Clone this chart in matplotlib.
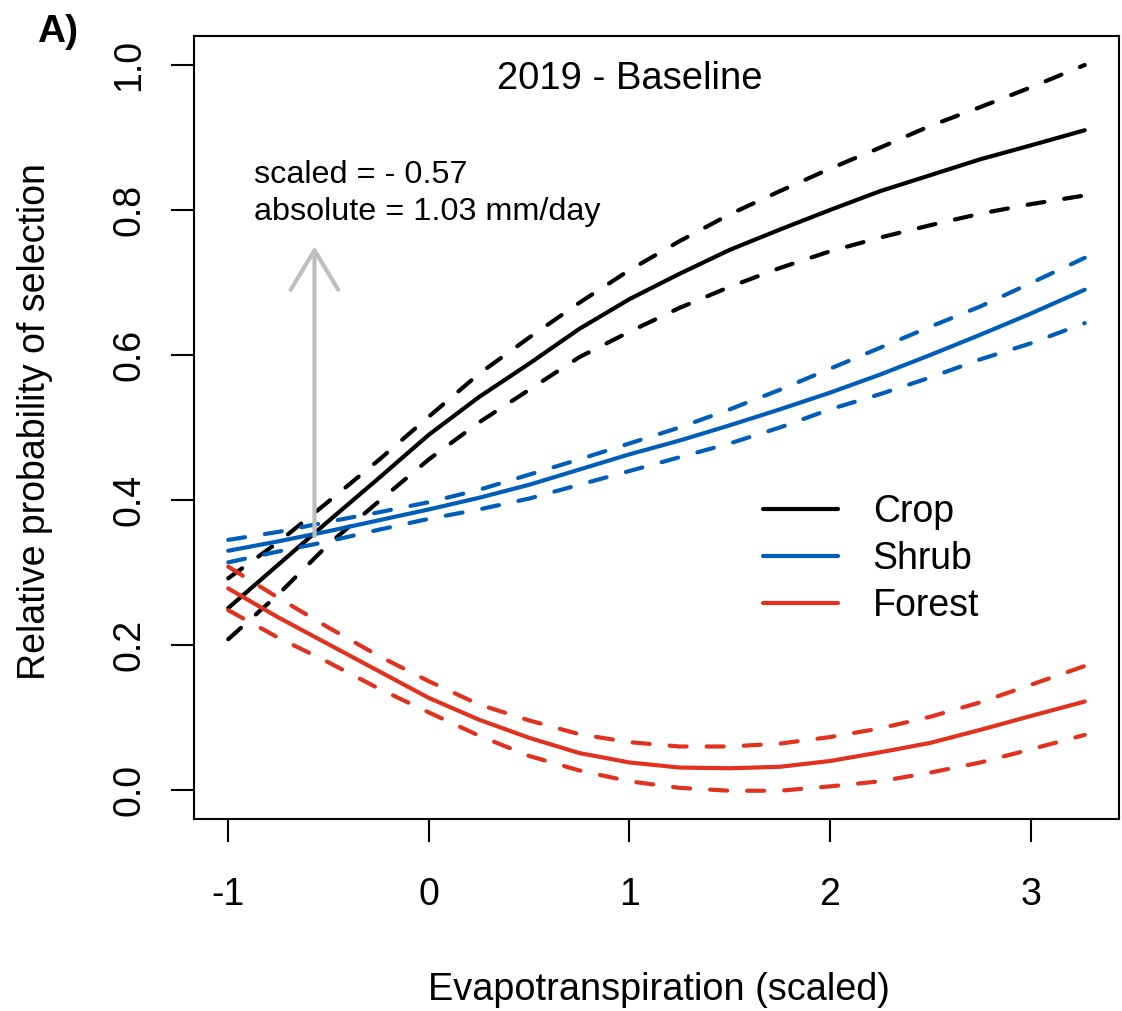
#!/usr/bin/env python3
import matplotlib
matplotlib.use("Agg")
import matplotlib.pyplot as plt

plt.rcParams["font.family"] = ["Liberation Sans", "DejaVu Sans"]

# evapotranspiration (scaled) grid
et_scaled = [-1, -0.75, -0.5, -0.25, 0, 0.25, 0.5, 0.75, 1, 1.25, 1.5, 1.75,
             2, 2.25, 2.5, 2.75, 3, 3.27]

crop_fit = [0.251, 0.311, 0.371, 0.430, 0.490, 0.542, 0.588, 0.636, 0.677, 0.712,
            0.745, 0.773, 0.800, 0.826, 0.848, 0.870, 0.889, 0.910]
crop_hi = [0.292, 0.342, 0.398, 0.455, 0.515, 0.574, 0.624, 0.672, 0.717, 0.757,
           0.794, 0.826, 0.857, 0.886, 0.916, 0.942, 0.969, 1.000]
crop_lo = [0.208, 0.270, 0.339, 0.398, 0.456, 0.507, 0.552, 0.597, 0.632, 0.665,
           0.694, 0.720, 0.743, 0.762, 0.779, 0.795, 0.808, 0.820]

shrub_fit = [0.330, 0.343, 0.357, 0.372, 0.387, 0.403, 0.421, 0.442, 0.463, 0.482,
             0.503, 0.525, 0.548, 0.573, 0.600, 0.628, 0.657, 0.690]
shrub_hi = [0.345, 0.356, 0.370, 0.383, 0.397, 0.414, 0.435, 0.456, 0.478, 0.500,
            0.525, 0.552, 0.581, 0.610, 0.639, 0.667, 0.699, 0.734]
shrub_lo = [0.314, 0.329, 0.343, 0.359, 0.374, 0.387, 0.402, 0.421, 0.440, 0.459,
            0.478, 0.500, 0.525, 0.546, 0.569, 0.594, 0.616, 0.644]

forest_fit = [0.278, 0.238, 0.201, 0.164, 0.127, 0.097, 0.072, 0.051, 0.038, 0.031,
              0.030, 0.032, 0.040, 0.052, 0.065, 0.083, 0.102, 0.122]
forest_hi = [0.308, 0.265, 0.224, 0.185, 0.150, 0.118, 0.096, 0.077, 0.066, 0.060,
             0.060, 0.064, 0.073, 0.085, 0.101, 0.121, 0.145, 0.171]
forest_lo = [0.248, 0.210, 0.176, 0.140, 0.107, 0.075, 0.047, 0.027, 0.012, 0.003,
             -0.001, -0.001, 0.005, 0.012, 0.024, 0.038, 0.056, 0.076]

x_ticks = [-1, 0, 1, 2, 3]
x_tick_labels = ["-1", "0", "1", "2", "3"]
y_ticks = [0.0, 0.2, 0.4, 0.6, 0.8, 1.0]
y_tick_labels = ["0.0", "0.2", "0.4", "0.6", "0.8", "1.0"]

# threshold arrow
arrow_x = -0.57
arrow_from = 0.35
arrow_to = 0.75

COL_CROP = "#000000"
COL_SHRUB = "#005EB8"
COL_FOREST = "#E0321E"
LW = 3.0
DASH = (0, (4.1, 4.8))


def draw_group(ax, fit, lo, hi, color, label):
    ax.plot(et_scaled, hi, color=color, lw=LW, linestyle=DASH,
            dash_capstyle="round")
    ax.plot(et_scaled, lo, color=color, lw=LW, linestyle=DASH,
            dash_capstyle="round")
    line, = ax.plot(et_scaled, fit, color=color, lw=LW, label=label,
                    solid_capstyle="round")
    return line


def main():
    fig = plt.figure(figsize=(11.22, 10.11), dpi=100)
    ax = fig.add_axes([0.1729, 0.1899, 0.8244, 0.7745])

    handles = []
    handles.append(draw_group(ax, crop_fit, crop_lo, crop_hi, COL_CROP, "Crop"))
    handles.append(draw_group(ax, shrub_fit, shrub_lo, shrub_hi, COL_SHRUB, "Shrub"))
    handles.append(draw_group(ax, forest_fit, forest_lo, forest_hi, COL_FOREST, "Forest"))

    ax.annotate("", xy=(arrow_x, arrow_to), xytext=(arrow_x, arrow_from),
                arrowprops=dict(arrowstyle="->,head_length=0.284,head_width=0.171",
                                mutation_scale=100, color="#BEBEBE", lw=3,
                                shrinkA=0, shrinkB=0))

    # R style 4% padding
    xr = et_scaled[-1] - et_scaled[0]
    ax.set_xlim(et_scaled[0] - 0.04 * xr, et_scaled[-1] + 0.04 * xr)
    ax.set_ylim(-0.04, 1.04)

    ax.set_xticks(x_ticks)
    ax.set_xticklabels(x_tick_labels)
    ax.set_yticks(y_ticks)
    ax.set_yticklabels(y_tick_labels, rotation=90, va="center")
    ax.tick_params(axis="both", labelsize=27, length=16.6, width=1.5)
    ax.tick_params(axis="x", pad=25)
    ax.tick_params(axis="y", pad=17)
    for s in ax.spines.values():
        s.set_linewidth(1.5)

    ax.text(1.0, 0.967, "2019 - Baseline", ha="center", va="baseline", fontsize=27.5)
    ax.text(-0.87, 0.837, "scaled = - 0.57", ha="left", va="baseline", fontsize=23.3)
    ax.text(-0.87, 0.786, "absolute = 1.03 mm/day", ha="left", va="baseline", fontsize=23.3)

    ax.legend(handles=handles, loc="center left", bbox_to_anchor=(0.615, 0.332),
              frameon=False, fontsize=27, handlelength=2.0, handletextpad=0.93,
              labelspacing=0.3, borderpad=0, borderaxespad=0)

    fig.text(45 / 1122, 0.583, "Relative probability of selection", rotation=90,
             rotation_mode="anchor", ha="center", va="baseline", fontsize=27)
    fig.text(659 / 1122, 11 / 1011, "Evapotranspiration (scaled)",
             ha="center", va="baseline", fontsize=27.3)
    fig.text(37 / 1122, (1011 - 42) / 1011, "A)", ha="left", va="baseline",
             fontsize=28, fontweight="bold")

    fig.savefig("out.png", dpi=100)
    plt.close(fig)


if __name__ == "__main__":
    main()
